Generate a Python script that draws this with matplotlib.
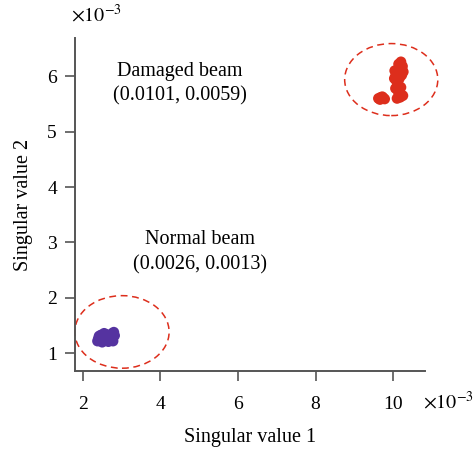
import matplotlib.pyplot as plt
from matplotlib.patches import Ellipse
from matplotlib.ticker import FuncFormatter

plt.rcParams['font.family'] = ['Liberation Serif', 'DejaVu Serif']
plt.rcParams['mathtext.fontset'] = 'stix'

# --- singular values of each measurement (first, second) ---
normal_x = [0.00238, 0.00245, 0.00252, 0.00260, 0.00268, 0.00276, 0.00282, 0.00242, 0.00250, 0.00258,
            0.00266, 0.00274, 0.00280, 0.00240, 0.00255, 0.00270, 0.00278, 0.00247, 0.00263, 0.00272]
normal_y = [0.00122, 0.00130, 0.00125, 0.00134, 0.00128, 0.00136, 0.00132, 0.00131, 0.00120, 0.00127,
            0.00121, 0.00124, 0.00138, 0.00126, 0.00136, 0.00131, 0.00122, 0.00133, 0.00130, 0.00126]

damaged_x = [0.00962, 0.00968, 0.00974, 0.00978, 0.00966, 0.00972,
             0.01010, 0.01018, 0.01014, 0.01006, 0.01012, 0.01020, 0.01008, 0.01016,
             0.01022, 0.01010, 0.01018, 0.01024, 0.01014, 0.01020, 0.01006, 0.01012,
             0.01004, 0.01026, 0.01003, 0.01025]
damaged_y = [0.00560, 0.00562, 0.00561, 0.00559, 0.00558, 0.00563,
             0.00560, 0.00562, 0.00570, 0.00578, 0.00585, 0.00580, 0.00592, 0.00596,
             0.00602, 0.00606, 0.00612, 0.00618, 0.00622, 0.00626, 0.00600, 0.00588,
             0.00610, 0.00608, 0.00596, 0.00565]

# cluster centres written on the chart
normal_label = (0.0026, 0.0013)
damaged_label = (0.0101, 0.0059)

# dashed outlines round each group: centre x, centre y, width, height
normal_ring = (0.00301, 0.001385, 0.00243, 0.00131)
damaged_ring = (0.00995, 0.00594, 0.00240, 0.00130)

PURPLE = '#5533a0'
RED = '#dd2e1c'
AXIS = '#555555'

fig = plt.figure(figsize=(4.73, 4.51), dpi=100)
ax = fig.add_axes([0.1586, 0.1774, 0.7399, 0.7383])

ax.scatter(normal_x, normal_y, s=60, color=PURPLE, edgecolors='none', zorder=3)
ax.scatter(damaged_x, damaged_y, s=60, color=RED, edgecolors='none', zorder=3)

for cx, cy, w, h in (normal_ring, damaged_ring):
    ax.add_patch(Ellipse((cx, cy), w, h, fill=False, edgecolor=RED, clip_on=False,
                         linestyle=(0, (4.5, 3)), linewidth=1.1, zorder=2))

ax.text(0.00450, 0.00609, 'Damaged beam', ha='center', va='center', fontsize=14.5)
ax.text(0.00450, 0.00564, '(%.4f, %.4f)' % damaged_label, ha='center', va='center', fontsize=14.5)
ax.text(0.00503, 0.00305, 'Normal beam', ha='center', va='center', fontsize=14.5)
ax.text(0.00503, 0.00260, '(%.4f, %.4f)' % normal_label, ha='center', va='center', fontsize=14.5)

ax.set_xlim(0.00180, 0.01082)
ax.set_ylim(0.00068, 0.00669)
ax.set_xticks([0.002, 0.004, 0.006, 0.008, 0.010])
ax.set_yticks([0.001, 0.002, 0.003, 0.004, 0.005, 0.006])
ax.xaxis.set_major_formatter(FuncFormatter(lambda v, p: '%g' % round(v * 1e3, 6)))
ax.yaxis.set_major_formatter(FuncFormatter(lambda v, p: '%g' % round(v * 1e3, 6)))

for side in ('top', 'right'):
    ax.spines[side].set_visible(False)
for side in ('left', 'bottom'):
    ax.spines[side].set_color(AXIS)
    ax.spines[side].set_linewidth(1.4)
ax.tick_params(direction='out', length=7, width=1.2, color=AXIS, labelsize=14)
ax.tick_params(axis='x', pad=11)
ax.tick_params(axis='y', pad=6)

ax.set_xlabel('Singular value 1', fontsize=14.5, labelpad=11)
ax.set_ylabel('Singular value 2', fontsize=14.5, labelpad=10)

# scale factors shown beside the axes
fig.text(0.205, 0.965, r'$\times10^{-3}$', ha='center', va='center', fontsize=14.5)
fig.text(0.948, 0.108, r'$\times10^{-3}$', ha='center', va='center', fontsize=14.5)

fig.savefig('out.png', dpi=100)
